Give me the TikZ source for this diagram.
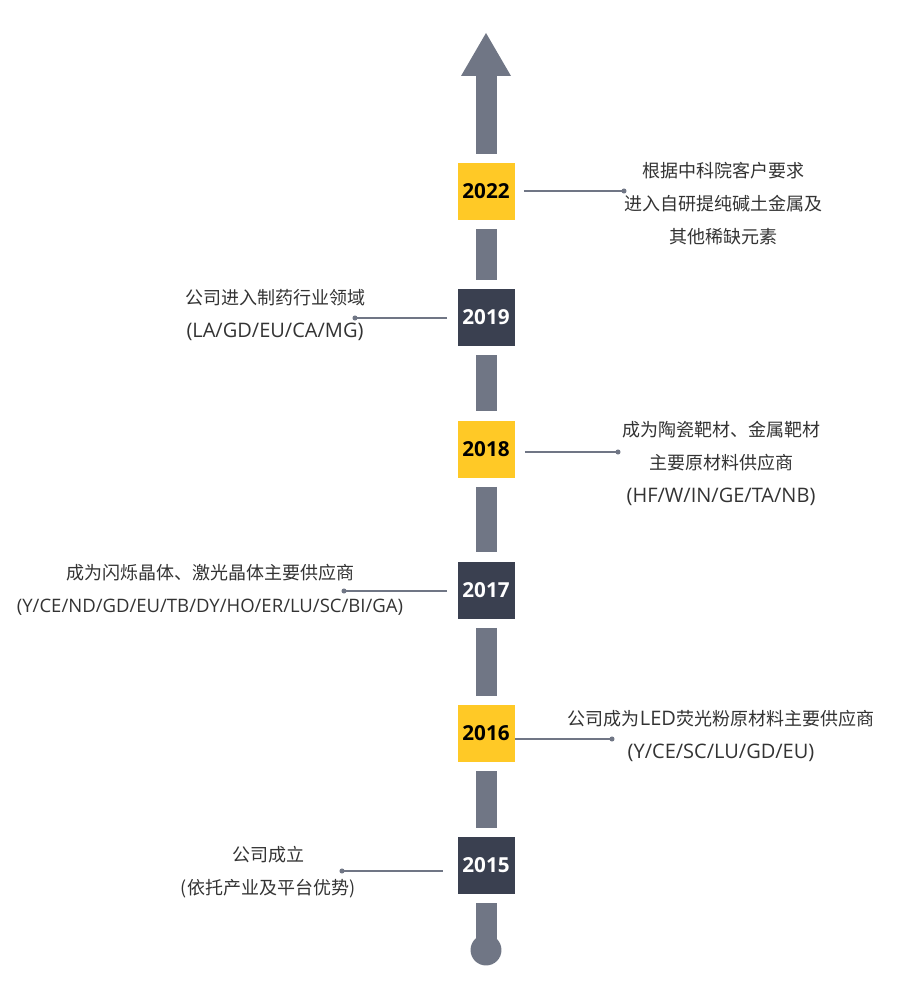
\documentclass[tikz,border=0pt]{standalone}
\usepackage{fontspec}
\setmainfont{Noto Sans CJK SC}
\newfontfamily\yearfont{Open Sans}
\newfontfamily\latinfont{Open Sans}
\newcommand{\lat}[1]{{\latinfont\fontsize{15}{24.75}\selectfont #1}}
\usetikzlibrary{arrows.meta}
\definecolor{lineGray}{RGB}{112,118,133}
\definecolor{boxDark}{RGB}{58,64,80}
\definecolor{boxYellow}{RGB}{255,201,38}
\definecolor{textGray}{RGB}{51,51,51}

\begin{document}
\begin{tikzpicture}[
  x=0.75pt, y=-0.75pt,
  yearbox/.style={
    minimum size=42.75pt,
    inner sep=0pt,
    font=\yearfont\bfseries\fontsize{15.5}{18}\selectfont
  },
  gold/.style={yearbox, fill=boxYellow, text=black},
  dark/.style={yearbox, fill=boxDark, text=white},
  bar/.style={draw=lineGray, line width=15.75pt, shorten <=6.75pt, shorten >=6.75pt},
  leader/.style={draw=lineGray, line width=0.9pt},
  event/.style={
    align=center,
    text=textGray,
    font=\fontsize{13.5}{24.75}\selectfont
  }
]
  \useasboundingbox (0,0) rectangle (920,987);

  \node[gold] (b2022) at (486,191.5) {2022};
  \node[dark] (b2019) at (486,317.5) {2019};
  \node[gold] (b2018) at (486,449) {2018};
  \node[dark] (b2017) at (486,590) {2017};
  \node[gold] (b2016) at (486,733.5) {2016};
  \node[dark] (b2015) at (486,865.5) {2015};

  \coordinate (top) at (486,33);
  \coordinate (base) at (486,950);

  % the time axis
  \draw[bar, shorten >=0pt, -{Triangle[width=37.5pt,length=32.25pt,line width=0pt]}]
    (b2022.north) -- (top);
  \draw[bar] (b2022.south) -- (b2019.north);
  \draw[bar] (b2019.south) -- (b2018.north);
  \draw[bar] (b2018.south) -- (b2017.north);
  \draw[bar] (b2017.south) -- (b2016.north);
  \draw[bar] (b2016.south) -- (b2015.north);
  \draw[bar, shorten >=0pt] (b2015.south) -- (base);
  \fill[lineGray] (base) circle (11.6pt);

  \node[event] (t2022) at (723,203.5)
    {根据中科院客户要求\\进入自研提纯碱土金属及\\其他稀缺元素};
  \node[event] (t2019) at (275,315)
    {公司进入制药行业领域\\\lat{(LA/GD/EU/CA/MG)}};
  \node[event] (t2018) at (721,463.5)
    {成为陶瓷靶材、金属靶材\\主要原材料供应商\\\lat{(HF/W/IN/GE/TA/NB)}};
  \node[event] (t2017) at (210,590)
    {成为闪烁晶体、激光晶体主要供应商\\{\latinfont\fontsize{13.9}{24.75}\selectfont (Y/CE/ND/GD/EU/TB/DY/HO/ER/LU/SC/BI/GA)}};
  \node[event] (t2016) at (721,736)
    {公司成为\lat{LED}荧光粉原材料主要供应商\\\lat{(Y/CE/SC/LU/GD/EU)}};
  \node[event] (t2015) at (268,872)
    {公司成立\\(依托产业及平台优势)};

  \coordinate (d2022) at (624,191);
  \coordinate (d2019) at (355,318);
  \coordinate (d2018) at (618,452);
  \coordinate (d2017) at (344,591);
  \coordinate (d2016) at (612,739);
  \coordinate (d2015) at (342,871);

  \draw[leader, shorten <=6.75pt] (b2022.east |- d2022) -- (d2022);
  \draw[leader, shorten <=7.5pt] (b2019.west |- d2019) -- (d2019);
  \draw[leader, shorten <=7.5pt] (b2018.east |- d2018) -- (d2018);
  \draw[leader, shorten <=7.5pt] (b2017.west |- d2017) -- (d2017);
  \draw[leader] (b2016.east |- d2016) -- (d2016);
  \draw[leader, shorten <=11pt] (b2015.west |- d2015) -- (d2015);
  \foreach \d in {d2022,d2019,d2018,d2017,d2016,d2015}
    \fill[lineGray] (\d) circle (1.9pt);
\end{tikzpicture}
\end{document}
